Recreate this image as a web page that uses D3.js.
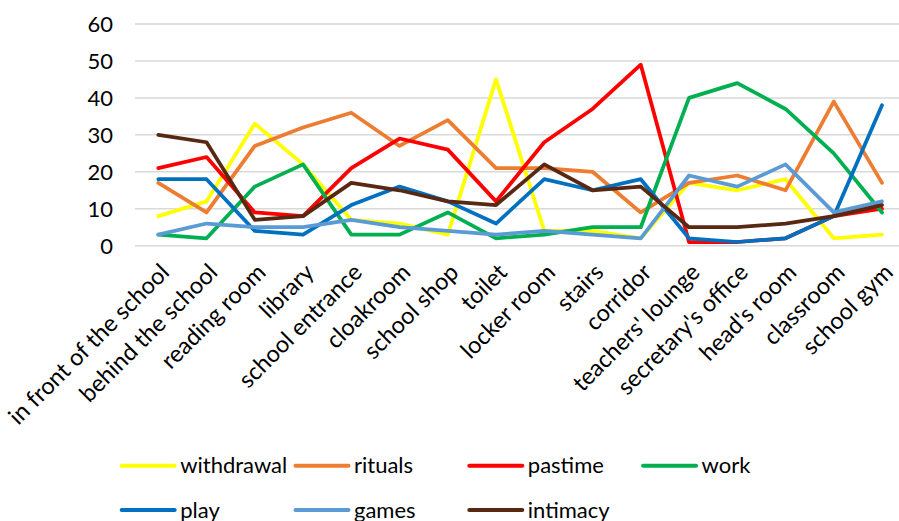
<!DOCTYPE html>
<html>
<head>
<meta charset="utf-8">
<script src="https://cdn.jsdelivr.net/npm/d3@7"></script>
<style>
  html, body { margin: 0; padding: 0; background: #fff; }
  svg text { font-family: Lato, "Open Sans", sans-serif; fill: #000; }
</style>
</head>
<body>
<svg id="chart" width="899" height="521"></svg>
<script>
// Places in and around the school
const categories = [
  "in front of the school", "behind the school", "reading room", "library",
  "school entrance", "cloakroom", "school shop", "toilet", "locker room",
  "stairs", "corridor", "teachers' lounge", "secretary's office",
  "head's room", "classroom", "school gym"
];

// Counts per type of time structuring
const withdrawal = [8, 12, 33, 22, 7, 6, 3, 45, 4, 4, 2, 17, 15, 18, 2, 3];
const rituals    = [17, 9, 27, 32, 36, 27, 34, 21, 21, 20, 9, 17, 19, 15, 39, 17];
const pastime    = [21, 24, 9, 8, 21, 29, 26, 12, 28, 37, 49, 1, 1, 2, 8, 10];
const work       = [3, 2, 16, 22, 3, 3, 9, 2, 3, 5, 5, 40, 44, 37, 25, 9];
const play       = [18, 18, 4, 3, 11, 16, 12, 6, 18, 15, 18, 2, 1, 2, 8, 38];
const games      = [3, 6, 5, 5, 7, 5, 4, 3, 4, 3, 2, 19, 16, 22, 9, 12];
const intimacy   = [30, 28, 7, 8, 17, 15, 12, 11, 22, 15, 16, 5, 5, 6, 8, 11];

const yTicks = [0, 10, 20, 30, 40, 50, 60];

const series = [
  { name: "withdrawal", values: withdrawal, color: "#FFFF00" },
  { name: "rituals",    values: rituals,    color: "#ED7D31" },
  { name: "pastime",    values: pastime,    color: "#FF0000" },
  { name: "work",       values: work,       color: "#00B050" },
  { name: "play",       values: play,       color: "#0070C0" },
  { name: "games",      values: games,      color: "#5B9BD5" },
  { name: "intimacy",   values: intimacy,   color: "#582812" }
];

const svg = d3.select("#chart");

const x = d3.scalePoint().domain(categories).range([158.3, 882]);
const y = d3.scaleLinear().domain([0, 60]).range([245.7, 24]);

const gridLeft = 135, gridRight = 910;

// horizontal gridlines
svg.append("g")
  .selectAll("line")
  .data(yTicks)
  .join("line")
  .attr("x1", gridLeft).attr("x2", gridRight)
  .attr("y1", d => y(d)).attr("y2", d => y(d))
  .attr("stroke", "#d9d9d9")
  .attr("stroke-width", 1.5);

// y axis labels
const yAxis = d3.axisLeft(y).tickValues(yTicks).tickSize(0).tickPadding(0);
const gy = svg.append("g").attr("transform", "translate(113,0)").call(yAxis);
gy.select(".domain").remove();
gy.selectAll("text")
  .attr("font-family", "Lato, 'Open Sans', sans-serif")
  .attr("font-size", 22)
  .attr("fill", "#000")
  .attr("dy", "0.35em");

// x axis labels, rotated
const xAxis = d3.axisBottom(x).tickSize(0).tickPadding(0);
const gx = svg.append("g").attr("transform", "translate(0,268)").call(xAxis);
gx.select(".domain").remove();
gx.selectAll("text")
  .attr("font-family", "Lato, 'Open Sans', sans-serif")
  .attr("font-size", 23.5)
  .attr("fill", "#000")
  .attr("text-anchor", "end")
  .attr("dy", "0.35em")
  .attr("y", 0)
  .attr("x", 0)
  .attr("transform", "translate(6,0) rotate(-45)");

// series lines
const line = d3.line()
  .x((d, i) => x(categories[i]))
  .y(d => y(d));

svg.append("g")
  .selectAll("path")
  .data(series)
  .join("path")
  .attr("d", d => line(d.values))
  .attr("fill", "none")
  .attr("stroke", d => d.color)
  .attr("stroke-width", 3.75)
  .attr("stroke-linejoin", "round")
  .attr("stroke-linecap", "round");

// legend: four per row
const legend = svg.append("g");
const item = legend.selectAll("g")
  .data(series)
  .join("g")
  .attr("transform", (d, i) => `translate(${121.7 + (i % 4) * 173.8},${i < 4 ? 465.7 : 510})`);
item.append("line")
  .attr("x1", 0).attr("x2", 53)
  .attr("y1", 0).attr("y2", 0)
  .attr("stroke", d => d.color)
  .attr("stroke-width", 4)
  .attr("stroke-linecap", "round");
item.append("text")
  .attr("x", 58.5)
  .attr("y", 0)
  .attr("dy", "0.35em")
  .attr("font-size", 22)
  .text(d => d.name);
</script>
</body>
</html>
